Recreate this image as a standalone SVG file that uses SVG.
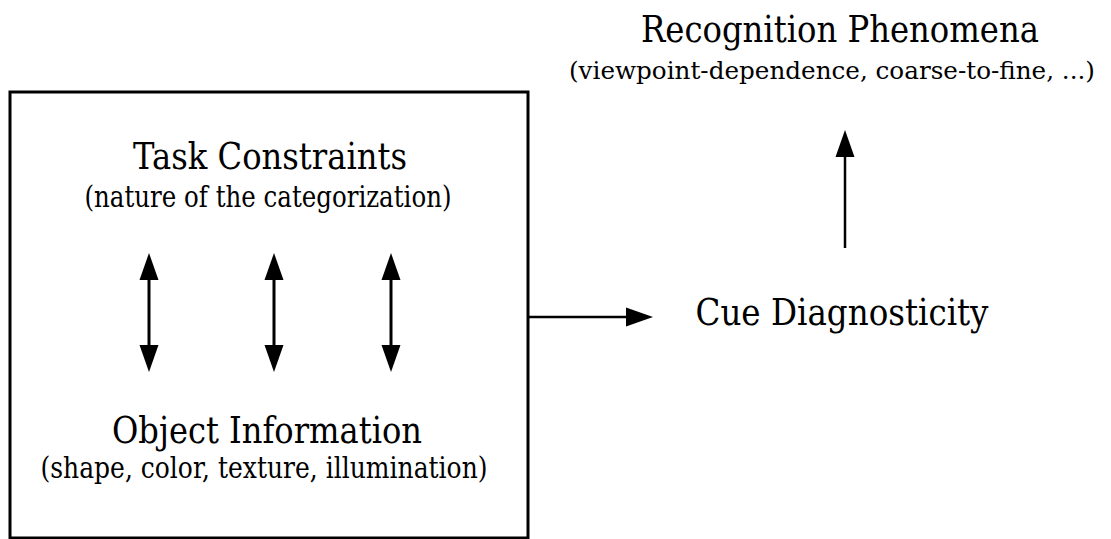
<svg xmlns="http://www.w3.org/2000/svg" width="1111" height="539" viewBox="0 0 1111 539">
  <style>
    text { font-family: 'DejaVu Serif', 'Liberation Serif', serif; fill: #000; text-anchor: middle; }
    .title { font-size: 38px; }
    .sub { font-size: 30px; }
    .sub-narrow { font-size: 25px; }
    .conn { stroke: #000; fill: none; }
  </style>
  <defs>
    <marker id="head" viewBox="0 -10 27 20" markerUnits="userSpaceOnUse" markerWidth="27" markerHeight="20" refX="0" refY="0" orient="auto-start-reverse">
      <path d="M0,-9.5 L27,0 L0,9.5 z" fill="#000"/>
    </marker>
  </defs>
  <rect width="1111" height="539" fill="#fff"/>

  <g id="box">
    <rect x="10" y="92" width="518" height="446" fill="none" stroke="#000" stroke-width="3"/>
  </g>

  <g id="task-constraints">
    <text class="title" x="270" y="169" textLength="274" lengthAdjust="spacingAndGlyphs">Task Constraints</text>
    <text class="sub" x="268" y="207" textLength="367" lengthAdjust="spacingAndGlyphs">(nature of the categorization)</text>
  </g>

  <g id="object-information">
    <text class="title" x="267" y="443" textLength="310" lengthAdjust="spacingAndGlyphs">Object Information</text>
    <text class="sub" x="264" y="478" textLength="447" lengthAdjust="spacingAndGlyphs">(shape, color, texture, illumination)</text>
  </g>

  <g id="cue-diagnosticity">
    <text class="title" x="842" y="325" textLength="293" lengthAdjust="spacingAndGlyphs">Cue Diagnosticity</text>
  </g>

  <g id="recognition-phenomena">
    <text class="title" x="840" y="42" textLength="398" lengthAdjust="spacingAndGlyphs">Recognition Phenomena</text>
    <text class="sub-narrow" x="832" y="79" textLength="526" lengthAdjust="spacingAndGlyphs">(viewpoint-dependence, coarse-to-fine, ...)</text>
  </g>

  <g id="connectors">
    <line class="conn" x1="149" y1="280" x2="149" y2="345" stroke-width="3" marker-start="url(#head)" marker-end="url(#head)"/>
    <line class="conn" x1="274" y1="280" x2="274" y2="345" stroke-width="3" marker-start="url(#head)" marker-end="url(#head)"/>
    <line class="conn" x1="391" y1="280" x2="391" y2="345" stroke-width="3" marker-start="url(#head)" marker-end="url(#head)"/>
    <line class="conn" x1="528" y1="317" x2="626" y2="317" stroke-width="2.5" marker-end="url(#head)"/>
    <line class="conn" x1="845" y1="248" x2="845" y2="157" stroke-width="2.5" marker-end="url(#head)"/>
  </g>
</svg>
